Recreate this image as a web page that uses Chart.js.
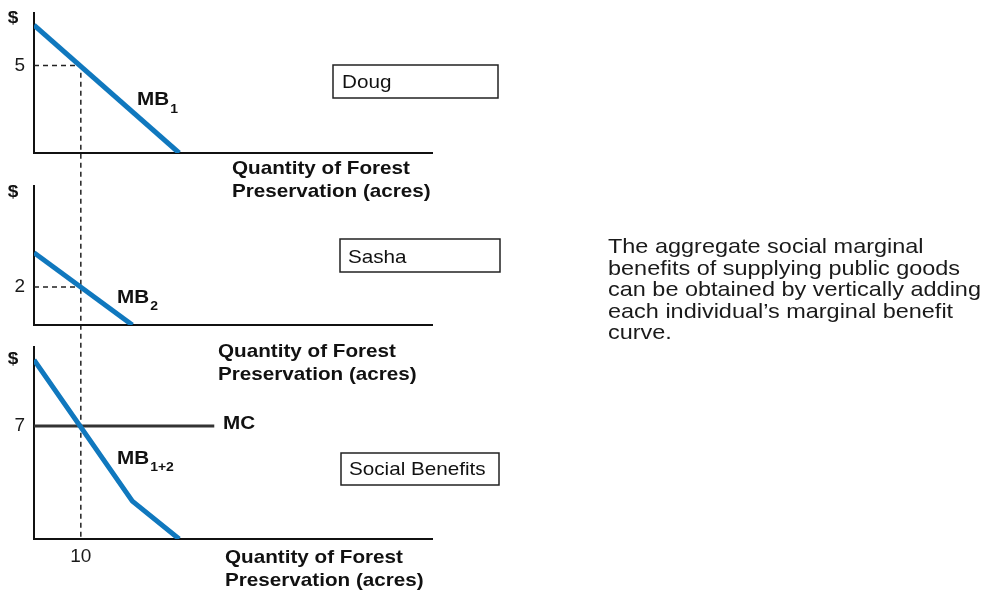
<!DOCTYPE html>
<html>
<head>
<meta charset="utf-8">
<script src="https://cdn.jsdelivr.net/npm/chart.js@4"></script>
<style>
  body { margin: 0; background: #fff; }
  #wrap { position: relative; width: 998px; height: 593px; overflow: hidden; }
  canvas { position: absolute; left: 0; top: 0; }
  #note {
    position: absolute; left: 608px; top: 235px;
    font: 21px "Liberation Sans", Arial, sans-serif; line-height: 21.6px; color: #1a1a1a;
    transform: scaleX(1.117); transform-origin: 0 0; white-space: nowrap;
  }
</style>
</head>
<body>
<div id="wrap">
  <canvas id="c1" width="998" height="593"></canvas>
  <canvas id="c2" width="998" height="593"></canvas>
  <canvas id="c3" width="998" height="593"></canvas>
  <div id="note">The aggregate social marginal<br>benefits of supplying public goods<br>can be obtained by vertically adding<br>each individual’s marginal benefit<br>curve.</div>
</div>
<script>
// curves (x = acres, y = $)
const mb1X = [0, 31];
const mb1Y = [7.3, 0];
const mb2X = [0, 21];
const mb2Y = [3.8, 0];
const mbSumX = [0, 21, 31];
const mbSumY = [11.1, 2.35, 0];
const mcX = [0, 38.5];
const mcY = [7, 7];

// tick labels shown on each panel
const yTicks1 = [5];
const yTicks2 = [2];
const yTicks3 = [7];
const xTicks3 = [10];
const qStar = 10;

const W = 998, H = 593;
const SX = 1.117; // the source text is a bit wider than Arial
const FONT = '"Liberation Sans", Arial, sans-serif';
const BLUE = '#1078be';
const xMax = 85;
const X_AXIS_H = 40;

// plot areas in page pixels
const panels = [
  { left: 34, right: 432, top: 13, bottom: 153, yMax: 8 },
  { left: 34, right: 432, top: 186, bottom: 325, yMax: 7.3 },
  { left: 34, right: 432, top: 347, bottom: 539, yMax: 11.9 }
];

const pts = (xs, ys) => xs.map((x, i) => ({ x: x, y: ys[i] }));

function stretchText(ctx, str, x, y, font, align) {
  ctx.save();
  ctx.font = font;
  ctx.textAlign = align || 'left';
  ctx.textBaseline = 'alphabetic';
  ctx.fillStyle = '#111';
  ctx.translate(x, y);
  ctx.scale(SX, 1);
  ctx.fillText(str, 0, 0);
  const w = ctx.measureText(str).width * SX;
  ctx.restore();
  return w;
}

const decorPlugin = {
  id: 'decor',
  beforeDatasetsDraw(chart, args, o) {
    if (!o.guide) return;
    const { ctx, chartArea, scales } = chart;
    const gx = scales.x.getPixelForValue(o.guide.x);
    const gy = scales.y.getPixelForValue(o.guide.y);
    ctx.save();
    ctx.setLineDash([5, 4]);
    ctx.lineWidth = 1.5;
    ctx.strokeStyle = '#222';
    ctx.beginPath();
    ctx.moveTo(chartArea.left, gy);
    ctx.lineTo(gx, gy);
    if (o.guide.down) ctx.lineTo(gx, o.guide.down);
    ctx.stroke();
    ctx.restore();
  },
  afterDraw(chart, args, o) {
    const ctx = chart.ctx;
    const bold = s => 'bold ' + s + 'px ' + FONT;
    const reg = s => s + 'px ' + FONT;

    stretchText(ctx, '$', o.dollar.x, o.dollar.y, bold(17), 'center');
    o.title.y.forEach((yy, i) => stretchText(ctx, o.title.lines[i], o.title.x, yy, bold(18.5)));

    const b = o.box;
    ctx.save();
    ctx.lineWidth = 1.5;
    ctx.strokeStyle = '#222';
    ctx.strokeRect(b.x, b.y, b.w, b.h);
    ctx.restore();
    stretchText(ctx, b.text, b.tx, b.ty, reg(18.5));

    const c = o.curve;
    const w = stretchText(ctx, c.text, c.x, c.y, bold(18.5));
    stretchText(ctx, c.sub, c.x + w + 1, c.subY, bold(12.5));

    if (o.mc) stretchText(ctx, o.mc.text, o.mc.x, o.mc.y, bold(18.5));
  }
};

const titleLines = ['Quantity of Forest', 'Preservation (acres)'];

function makeChart(id, panel, datasets, yTicks, xTicks, decor) {
  const tickFont = { family: FONT, size: 19 };
  return new Chart(document.getElementById(id), {
    type: 'line',
    data: { datasets: datasets },
    plugins: [decorPlugin],
    options: {
      responsive: false,
      animation: false,
      devicePixelRatio: 1,
      layout: { padding: { left: 0, top: panel.top, right: W - panel.right, bottom: H - panel.bottom - X_AXIS_H } },
      plugins: { legend: { display: false }, tooltip: { enabled: false }, decor: decor },
      elements: { point: { radius: 0 }, line: { tension: 0 } },
      scales: {
        x: {
          type: 'linear', min: 0, max: xMax,
          grid: { display: false, drawTicks: false },
          border: { color: '#111', width: 2 },
          ticks: { display: xTicks.length > 0, padding: 6, font: tickFont, color: '#1a1a1a', autoSkip: false },
          afterBuildTicks: s => { s.ticks = xTicks.map(v => ({ value: v })); },
          afterFit: s => { s.height = X_AXIS_H; s.paddingLeft = 0; s.paddingRight = 0; }
        },
        y: {
          type: 'linear', min: 0, max: panel.yMax,
          grid: { display: false, drawTicks: false },
          border: { color: '#111', width: 2 },
          ticks: { padding: 9, font: tickFont, color: '#1a1a1a' },
          afterBuildTicks: s => { s.ticks = yTicks.map(v => ({ value: v })); },
          afterFit: s => { s.width = panel.left; s.paddingTop = 0; s.paddingBottom = 0; }
        }
      }
    }
  });
}

const blueLine = (label, xs, ys) => ({
  label: label, data: pts(xs, ys),
  borderColor: BLUE, borderWidth: 5, borderCapStyle: 'butt', borderJoinStyle: 'round'
});

makeChart('c1', panels[0], [blueLine('MB1', mb1X, mb1Y)], yTicks1, [], {
  dollar: { x: 13, y: 23 },
  title: { x: 232, y: [174, 197], lines: titleLines },
  box: { x: 333, y: 65, w: 165, h: 33, text: 'Doug', tx: 342, ty: 88 },
  curve: { text: 'MB', sub: '1', x: 137, y: 105, subY: 113 },
  guide: { x: qStar, y: yTicks1[0], down: panels[2].bottom }
});

makeChart('c2', panels[1], [blueLine('MB2', mb2X, mb2Y)], yTicks2, [], {
  dollar: { x: 13, y: 197 },
  title: { x: 218, y: [357, 380], lines: titleLines },
  box: { x: 340, y: 239, w: 160, h: 33, text: 'Sasha', tx: 348, ty: 263 },
  curve: { text: 'MB', sub: '2', x: 117, y: 303, subY: 310 },
  guide: { x: qStar, y: yTicks2[0] }
});

makeChart('c3', panels[2], [
  blueLine('MB1+2', mbSumX, mbSumY),
  { label: 'MC', data: pts(mcX, mcY), borderColor: '#333', borderWidth: 3, borderCapStyle: 'butt' }
], yTicks3, xTicks3, {
  dollar: { x: 13, y: 364 },
  title: { x: 225, y: [563, 586], lines: titleLines },
  box: { x: 341, y: 453, w: 158, h: 32, text: 'Social Benefits', tx: 349, ty: 475 },
  curve: { text: 'MB', sub: '1+2', x: 117, y: 464, subY: 471 },
  mc: { text: 'MC', x: 223, y: 429 }
});
</script>
</body>
</html>
